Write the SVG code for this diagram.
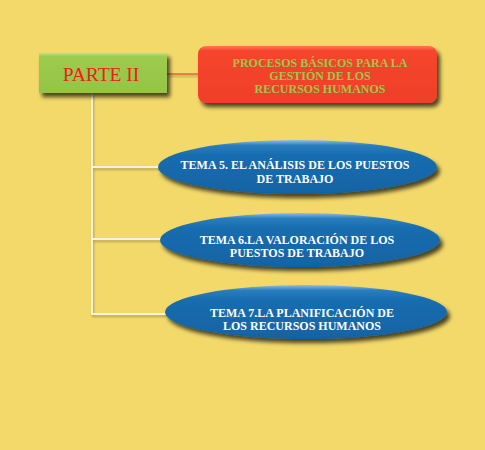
<svg xmlns="http://www.w3.org/2000/svg" width="485" height="450" viewBox="0 0 485 450">
<defs>
<style>
.t{font-family:"Liberation Serif","DejaVu Serif",serif;font-weight:bold;text-anchor:middle}
.w{fill:#ffffff;font-size:12px}
.g{fill:#9BC94C;font-size:12px}
.conn{stroke:#FFFFFF;stroke-width:1.5;fill:none}
</style>
<filter id="sh" x="-20%" y="-30%" width="140%" height="170%">
<feGaussianBlur in="SourceAlpha" stdDeviation="2"/>
<feOffset dx="3" dy="4" result="b"/>
<feComponentTransfer><feFuncA type="linear" slope="0.7"/></feComponentTransfer>
<feMerge><feMergeNode/><feMergeNode in="SourceGraphic"/></feMerge>
</filter>
<filter id="lsh" x="-5%" y="-5%" width="110%" height="110%">
<feGaussianBlur in="SourceAlpha" stdDeviation="1"/>
<feOffset dx="1" dy="1.5"/>
<feComponentTransfer><feFuncA type="linear" slope="0.35"/></feComponentTransfer>
<feMerge><feMergeNode/><feMergeNode in="SourceGraphic"/></feMerge>
</filter>
<linearGradient id="blue" x1="0" y1="0" x2="0" y2="1">
<stop offset="0" stop-color="#8CC0E8"/>
<stop offset="0.1" stop-color="#2A7DBE"/>
<stop offset="0.28" stop-color="#176DAF"/>
<stop offset="1" stop-color="#1163A4"/>
</linearGradient>
<linearGradient id="green" x1="0" y1="0" x2="0" y2="1">
<stop offset="0" stop-color="#C4E08A"/>
<stop offset="0.08" stop-color="#9DCB4E"/>
<stop offset="1" stop-color="#94C445"/>
</linearGradient>
<linearGradient id="red" x1="0" y1="0" x2="0" y2="1">
<stop offset="0" stop-color="#FF7A5E"/>
<stop offset="0.08" stop-color="#F5452C"/>
<stop offset="1" stop-color="#F0402A"/>
</linearGradient>
</defs>
<rect width="485" height="450" fill="#F3D96A"/>
<g id="connectors" filter="url(#lsh)">
<line x1="167" y1="74" x2="199" y2="74" stroke="#E8432E" stroke-width="1.2"/>
<polyline class="conn" points="92,93 92,314 166,314"/>
<line class="conn" x1="92" y1="167" x2="160" y2="167"/>
<line class="conn" x1="92" y1="239" x2="162" y2="239"/>
</g>
<g id="parte">
<rect x="39" y="53" width="128" height="40" fill="url(#green)" filter="url(#sh)"/>
<text x="101" y="81" style="font-family:'Liberation Serif','DejaVu Serif',serif;font-size:19.5px;fill:#EE1C1C;text-anchor:middle">PARTE II</text>
</g>
<g id="procesos">
<rect x="198" y="46" width="239" height="57" rx="8" fill="url(#red)" filter="url(#sh)"/>
<text class="t g" x="320" y="67">PROCESOS BÁSICOS PARA LA</text>
<text class="t g" x="320" y="80">GESTIÓN DE LOS</text>
<text class="t g" x="320" y="93">RECURSOS HUMANOS</text>
</g>
<g id="tema5">
<ellipse cx="297.5" cy="167" rx="139.5" ry="27" fill="url(#blue)" filter="url(#sh)"/>
<text class="t w" x="295" y="169">TEMA 5. EL ANÁLISIS DE LOS PUESTOS</text>
<text class="t w" x="295" y="183">DE TRABAJO</text>
</g>
<g id="tema6">
<ellipse cx="300" cy="240" rx="140" ry="27" fill="url(#blue)" filter="url(#sh)"/>
<text class="t w" x="297" y="244">TEMA 6.LA VALORACIÓN DE LOS</text>
<text class="t w" x="297" y="257">PUESTOS DE TRABAJO</text>
</g>
<g id="tema7">
<ellipse cx="306" cy="312" rx="141" ry="27" fill="url(#blue)" filter="url(#sh)"/>
<text class="t w" x="302" y="317">TEMA 7.LA PLANIFICACIÓN DE</text>
<text class="t w" x="302" y="330">LOS RECURSOS HUMANOS</text>
</g>
</svg>
